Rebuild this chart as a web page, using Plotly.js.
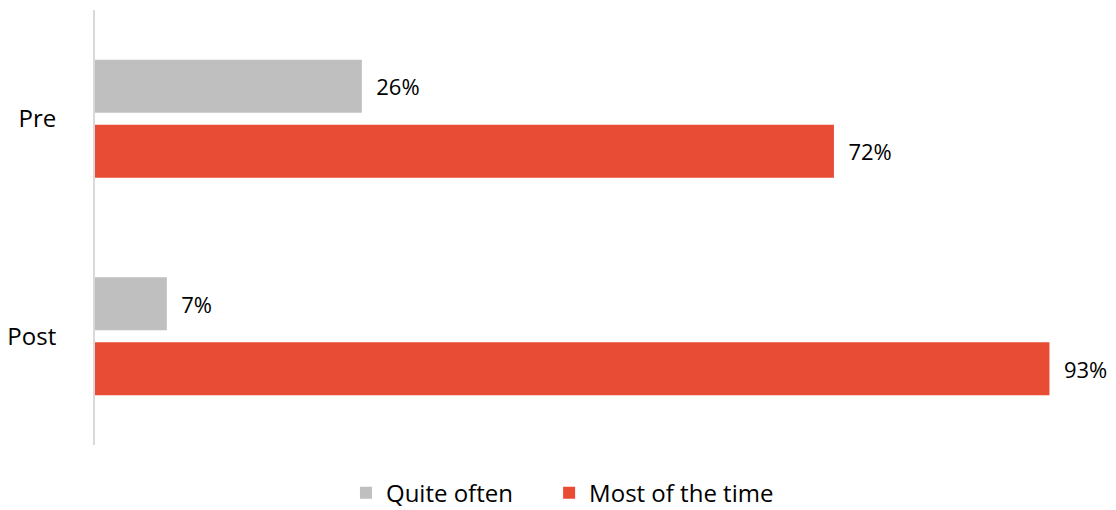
<!DOCTYPE html>
<html>
<head>
<meta charset="utf-8">
<script src="https://cdn.plot.ly/plotly-3.0.1.min.js"></script>
<style>html,body{margin:0;padding:0;background:#fff;}#chart{width:1116px;height:510px;}</style>
</head>
<body>
<div id="chart"></div>
<script>
const categories = ["Pre", "Post"];
const quiteOften = [26, 7];
const mostOfTheTime = [72, 93];
const seriesNames = ["Quite often", "Most of the time"];

const family = "Open Sans, Noto Sans, sans-serif";
const labelFont = {family: family, size: 22, color: "#000"};
const axisFont = {family: family, size: 24, color: "#000"};
const nb = "\u00a0\u00a0";
const legendPad = "\u00a0\u00a0\u00a0\u00a0\u00a0";

const traces = [
  {type: "bar", orientation: "h", name: seriesNames[0] + legendPad, y: categories, x: quiteOften,
   marker: {color: "#BFBFBF"}, text: quiteOften.map(v => nb + v + "%"), textposition: "outside",
   textfont: labelFont, cliponaxis: false, hoverinfo: "none"},
  {type: "bar", orientation: "h", name: seriesNames[1], y: categories, x: mostOfTheTime,
   marker: {color: "#E84C34"}, text: mostOfTheTime.map(v => nb + v + "%"), textposition: "outside",
   textfont: labelFont, cliponaxis: false, hoverinfo: "none"}
];

const layout = {
  width: 1116, height: 510,
  margin: {l: 95, r: 46, t: 10, b: 65, autoexpand: false},
  paper_bgcolor: "#fff", plot_bgcolor: "#fff",
  font: axisFont,
  barmode: "group", bargap: 0.402, bargroupgap: 0.185,
  xaxis: {range: [0, 95], showgrid: false, zeroline: false, showticklabels: false, showline: false, fixedrange: true},
  yaxis: {type: "category", autorange: "reversed", showgrid: false, zeroline: false,
          showline: true, linecolor: "#D9D9D9", linewidth: 2, ticks: "", ticklabelstandoff: 32,
          tickfont: axisFont},
  showlegend: true,
  legend: {orientation: "h", xref: "container", x: 0.504, xanchor: "center", yref: "container", y: 0.033, yanchor: "middle",
           font: axisFont, traceorder: "normal", itemwidth: 30}
};

Plotly.newPlot("chart", traces, layout, {displayModeBar: false, staticPlot: true});
</script>
</body>
</html>
